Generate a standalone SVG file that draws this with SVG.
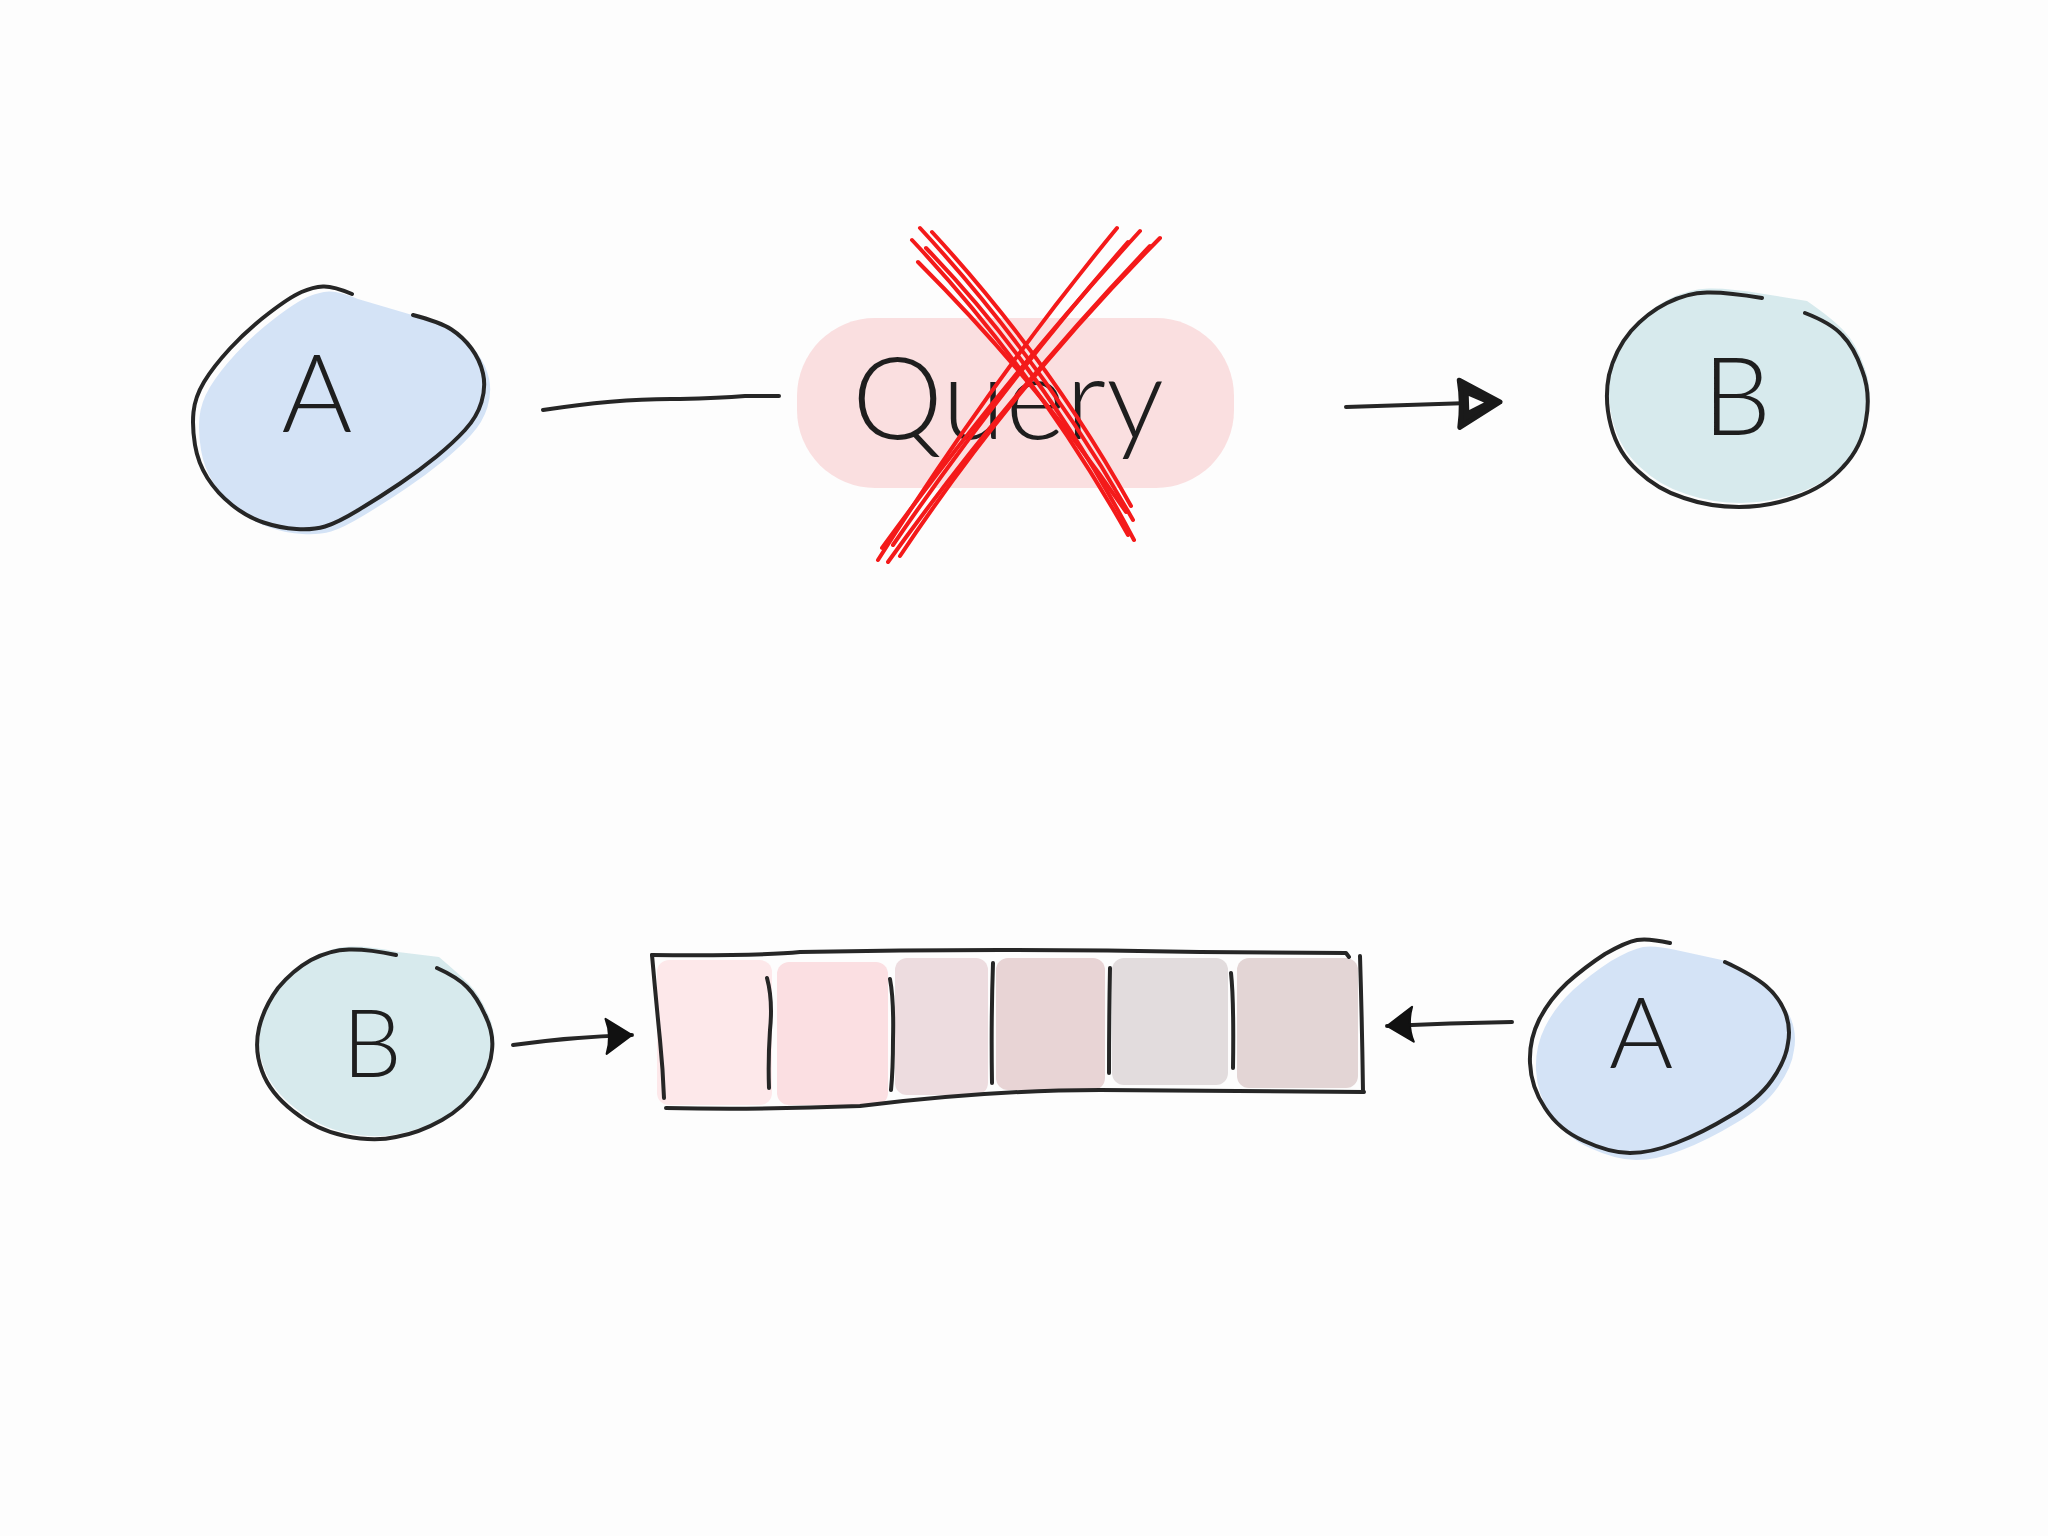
<svg xmlns="http://www.w3.org/2000/svg" width="2048" height="1536" viewBox="0 0 2048 1536">
<defs>
<style>
.ol{fill:none;stroke:#262626;stroke-width:4;stroke-linecap:round;stroke-linejoin:round}
.blue{fill:#d4e3f6}
.teal{fill:#d7eaed}
.lbl{font-family:Lato,"Liberation Sans",sans-serif;font-weight:300;fill:#1e1e1e;text-anchor:middle}
.x{fill:none;stroke:#f41a1a;stroke-width:4;stroke-linecap:round}
.cell{stroke:none}
</style>
<marker id="fill-arrow" markerUnits="userSpaceOnUse" markerWidth="30" markerHeight="40" refX="28" refY="19" orient="auto" viewBox="0 0 30 40">
<path d="M2,2 L28,19 L2,37 Q8,19 2,2 Z" fill="#111" stroke="#111" stroke-width="2" stroke-linejoin="round"/>
</marker>
<marker id="open-arrow" markerUnits="userSpaceOnUse" markerWidth="50" markerHeight="56" refX="46" refY="27" orient="auto" viewBox="0 0 50 56">
<path d="M6,4 L46,27 L5,51 Q9,27 6,4 Z" fill="#1a1a1a" stroke="#1a1a1a" stroke-width="5" stroke-linejoin="round"/>
<path d="M15,20 L30,27 L15,34 Z" fill="#fdfdfd"/>
</marker>
</defs>
<rect x="0" y="0" width="2048" height="1536" fill="#fdfdfd"/>

<g id="node-a-top">
<path class="blue" transform="translate(6,5)" d="M352,294 Q333,286 323,286.5 Q313,287 301.5,292 Q290,297 268.5,313.5 Q247,330 230,348.5 Q213,367 204,382 Q195,397 193.5,412 Q192,427 195,445 Q198,463 207.5,478 Q217,493 232,505 Q247,517 263.5,522.5 Q280,528 296.5,529 Q313,530 325,526.5 Q337,523 358.5,510 Q380,497 400,483.5 Q420,470 436.5,456.5 Q453,443 465,430 Q477,417 481.5,402 Q486,387 483,373.5 Q480,360 471.5,348.5 Q463,337 451.5,329.5 Q440,322 413,312 Z"/>
<path class="ol" d="M352,294 Q333,286 323,286.5 Q313,287 301.5,292 Q290,297 268.5,313.5 Q247,330 230,348.5 Q213,367 204,382 Q195,397 193.5,412 Q192,427 195,445 Q198,463 207.5,478 Q217,493 232,505 Q247,517 263.5,522.5 Q280,528 296.5,529 Q313,530 325,526.5 Q337,523 358.5,510 Q380,497 400,483.5 Q420,470 436.5,456.5 Q453,443 465,430 Q477,417 481.5,402 Q486,387 483,373.5 Q480,360 471.5,348.5 Q463,337 451.5,329.5 Q440,322 413,315"/>
<text class="lbl" x="317" y="432" font-size="108">A</text>
</g>

<g id="node-query">
<rect x="797" y="318" width="437" height="170" rx="78" fill="#fadfe0"/>
<text class="lbl" x="1008" y="439" font-size="115" textLength="312" lengthAdjust="spacing">Query</text>
<g id="cross">
<path class="x" d="M912,240 Q1036,372 1128,535"/>
<path class="x" d="M920,228 Q1044,362 1133,520"/>
<path class="x" d="M932,232 Q1050,360 1131,506"/>
<path class="x" d="M918,262 Q1038,382 1126,512"/>
<path class="x" d="M926,248 Q1046,372 1134,540"/>
<path class="x" d="M1117,228 Q992,380 878,560"/>
<path class="x" d="M1140,231 Q1004,380 882,548"/>
<path class="x" d="M1160,238 Q1012,388 900,556"/>
<path class="x" d="M1128,242 Q997,393 893,545"/>
<path class="x" d="M1150,246 Q1007,396 888,562"/>
</g>
</g>

<g id="node-b-top">
<path class="teal" transform="translate(2,-4)" d="M1762,298 Q1727,292 1707,292.5 Q1687,293 1667,303 Q1647,313 1631,331 Q1615,350 1609,375 Q1604,400 1611,426 Q1618,453 1638,471 Q1658,490 1684,498 Q1710,507 1739,507 Q1768,507 1796,497 Q1825,487 1843,467 Q1862,447 1866,420 Q1871,393 1862,370 Q1854,347 1842,335 Q1831,323 1805,305 Z"/>
<path class="ol" d="M1762,298 Q1727,292 1707,292.5 Q1687,293 1667,303 Q1647,313 1631,331 Q1615,350 1609,375 Q1604,400 1611,426 Q1618,453 1638,471 Q1658,490 1684,498 Q1710,507 1739,507 Q1768,507 1796,497 Q1825,487 1843,467 Q1862,447 1866,420 Q1871,393 1862,370 Q1854,347 1842,335 Q1831,323 1805,313"/>
<text class="lbl" x="1737" y="435" font-size="108">B</text>
</g>

<g id="node-b-bottom">
<path class="teal" transform="translate(2,-3)" d="M396,955 Q368,949 349,949.5 Q330,950 311,960 Q293,970 278,988 Q264,1007 259,1028 Q254,1050 262,1071 Q270,1093 293,1111 Q316,1130 345,1136 Q374,1142 396,1137 Q419,1133 442,1120 Q465,1107 478,1087 Q491,1067 492,1050 Q494,1033 485,1015 Q477,997 467,987 Q457,977 437,960 Z"/>
<path class="ol" d="M396,955 Q368,949 349,949.5 Q330,950 311,960 Q293,970 278,988 Q264,1007 259,1028 Q254,1050 262,1071 Q270,1093 293,1111 Q316,1130 345,1136 Q374,1142 396,1137 Q419,1133 442,1120 Q465,1107 478,1087 Q491,1067 492,1050 Q494,1033 485,1015 Q477,997 467,987 Q457,977 437,968"/>
<text class="lbl" x="372" y="1077" font-size="94">B</text>
</g>

<g id="node-queue">
<rect class="cell" x="657" y="960" width="115" height="145" rx="12" fill="#fde8ea"/>
<rect class="cell" x="777" y="962" width="111" height="143" rx="12" fill="#fbdfe2"/>
<rect class="cell" x="895" y="958" width="93" height="137" rx="12" fill="#eddcdf"/>
<rect class="cell" x="996" y="958" width="109" height="132" rx="12" fill="#e8d4d5"/>
<rect class="cell" x="1112" y="958" width="116" height="127" rx="12" fill="#e2dcdd"/>
<rect class="cell" x="1237" y="958" width="121" height="130" rx="12" fill="#e3d5d5"/>
<path class="ol" d="M652,955 Q760,956 800,952 Q1000,948 1200,952 L1346,953 L1349,957"/>
<path class="ol" d="M652,955 Q656,1000 660,1040 Q663,1070 664,1098"/>
<path class="ol" d="M666,1108 Q760,1110 860,1106 Q990,1090 1100,1090 L1364,1092"/>
<path class="ol" d="M1360,956 Q1362,1020 1363,1092"/>
<path class="ol" d="M767,978 Q773,1000 770,1030 Q768,1060 769,1088"/>
<path class="ol" d="M890,979 Q894,1000 893,1040 Q893,1070 891,1090"/>
<path class="ol" d="M993,963 Q991,1020 992,1083"/>
<path class="ol" d="M1110,968 Q1109,1020 1109,1073"/>
<path class="ol" d="M1231,973 Q1234,1000 1233,1068"/>
</g>

<g id="node-a-bottom">
<path class="blue" transform="translate(6,7)" d="M1670,943 Q1648,938 1637,940 Q1626,942 1605,954 Q1585,967 1567,983 Q1549,1000 1539,1020 Q1529,1040 1530,1063 Q1531,1087 1545,1108 Q1559,1130 1584,1141 Q1610,1153 1630,1153 Q1651,1153 1676,1143 Q1702,1133 1730,1116 Q1758,1100 1772,1080 Q1786,1060 1788,1043 Q1791,1027 1785,1012 Q1779,997 1766,986 Q1753,975 1725,955 Z"/>
<path class="ol" d="M1670,943 Q1648,938 1637,940 Q1626,942 1605,954 Q1585,967 1567,983 Q1549,1000 1539,1020 Q1529,1040 1530,1063 Q1531,1087 1545,1108 Q1559,1130 1584,1141 Q1610,1153 1630,1153 Q1651,1153 1676,1143 Q1702,1133 1730,1116 Q1758,1100 1772,1080 Q1786,1060 1788,1043 Q1791,1027 1785,1012 Q1779,997 1766,986 Q1753,975 1725,962"/>
<text class="lbl" x="1641" y="1068" font-size="98">A</text>
</g>

<g id="connectors">
<path class="ol" d="M543,410 Q620,398 680,399 Q720,398 745,396 L779,396"/>
<path class="ol" d="M1346,407 L1500,402" marker-end="url(#open-arrow)"/>
<path class="ol" d="M513,1045 Q570,1037 632,1035" marker-end="url(#fill-arrow)"/>
<path class="ol" d="M1512,1022 Q1450,1023 1387,1026" marker-end="url(#fill-arrow)"/>
</g>
</svg>
